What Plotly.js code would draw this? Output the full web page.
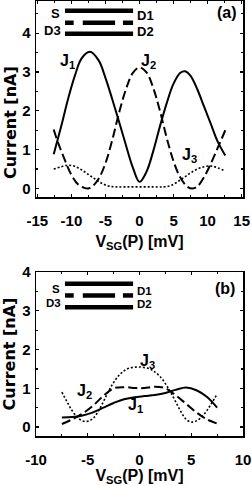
<!DOCTYPE html>
<html>
<head>
<meta charset="utf-8">
<script src="https://cdn.plot.ly/plotly-3.0.1.min.js"></script>
<style>
html,body{margin:0;padding:0;background:#fff;}
#chart{width:252px;height:486px;}
</style>
</head>
<body>
<div id="chart"></div>
<script>
// ---- Panel (a) data ----
const xA_J1 = [-12.6,-11.5,-10.5,-9.5,-8.5,-7.3,-6,-5,-4,-3,-2,-1,0,1,2,3,4,5,6,6.7,7.5,8.5,9.5,10.5,11.5,12.6];
const yA_J1 = [0.88,1.6,2.3,2.9,3.35,3.52,3.3,2.85,2.3,1.72,1.12,0.55,0.17,0.42,0.95,1.6,2.2,2.7,2.98,3.02,2.9,2.55,2.1,1.65,1.2,0.85];
const xA_J2 = [-12.6,-12,-11,-10,-9,-8,-7.6,-7,-6,-5,-4,-3,-2,-1,0,1,2,3,4,5,6,7,7.8,8.5,9.5,10.5,11.5,12.6];
const yA_J2 = [1.52,1.2,0.75,0.35,0.1,0.01,0.0,0.04,0.25,0.65,1.25,1.95,2.55,2.97,3.12,3.0,2.6,2.0,1.3,0.7,0.28,0.05,0.0,0.05,0.3,0.65,1.05,1.5];
const xA_J3 = [-12.6,-11.5,-10.5,-9.5,-8.5,-7.5,-6.5,-5.5,-4.5,-3.5,-2,0,2,3.5,4.5,5.5,6.5,7.5,8.5,9.5,10.5,11.5,12.6];
const yA_J3 = [0.5,0.56,0.6,0.57,0.48,0.36,0.24,0.13,0.06,0.04,0.04,0.04,0.04,0.04,0.07,0.16,0.28,0.4,0.5,0.56,0.58,0.53,0.45];

// ---- Panel (b) data ----
const xB_J1 = [-7.5,-6.5,-5.5,-4.5,-3.5,-2.5,-1.5,-0.5,0.5,1.5,2.5,3.5,4.5,5.5,6.5,7.5];
const yB_J1 = [0.25,0.26,0.3,0.38,0.5,0.62,0.72,0.77,0.8,0.83,0.88,0.96,1.02,0.95,0.78,0.5];
const xB_J2 = [-7.5,-6.5,-5.5,-4.5,-3.5,-2.5,-1.5,-0.5,0,0.5,1.5,2.5,3.5,4.5,5.5,6.5,7.5];
const yB_J2 = [0.08,0.2,0.35,0.55,0.8,1.0,1.03,1.01,1.0,1.01,1.04,1.0,0.82,0.6,0.38,0.2,0.09];
const xB_J3 = [-7.5,-7,-6.5,-6,-5.5,-5,-4.5,-4,-3.5,-3,-2.5,-2,-1.5,-1,0,1,1.5,2,2.5,3,3.5,4,4.5,5,5.5,6,6.5,7,7.5];
const yB_J3 = [0.9,0.65,0.42,0.25,0.16,0.15,0.22,0.4,0.65,0.92,1.15,1.33,1.45,1.52,1.55,1.5,1.42,1.3,1.12,0.9,0.65,0.4,0.2,0.13,0.16,0.26,0.42,0.63,0.85];

// ---- tick settings ----
const xTicksA = [-15,-10,-5,0,5,10,15];
const xTicksB = [-10,-5,0,5,10];
const yTicks = [0,1,2,3,4];
const seriesLabels = ['J<sub>1</sub>','J<sub>2</sub>','J<sub>3</sub>'];
const panelLabels = ['(a)','(b)'];
const xTitle = 'V<sub>SG</sub>(P) [mV]';
const yTitle = 'Current [nA]';
const contactLabels = ['S','D1','D3','D2'];

const FONT = 'Liberation Sans, Arial, sans-serif';
const YFONT = 'DejaVu Sans, sans-serif';
const solid = {color:'#000', width:2, shape:'spline', smoothing:1};
const dashed = {color:'#000', width:2, dash:'9px,4px', shape:'spline', smoothing:1};
const dotted = {color:'#000', width:1.6, dash:'2px,2px', shape:'spline', smoothing:1};

const traces = [
  {x:xA_J1, y:yA_J1, mode:'lines', line:solid, xaxis:'x', yaxis:'y'},
  {x:xA_J2, y:yA_J2, mode:'lines', line:dashed, xaxis:'x', yaxis:'y'},
  {x:xA_J3, y:yA_J3, mode:'lines', line:dotted, xaxis:'x', yaxis:'y'},
  {x:xB_J1, y:yB_J1, mode:'lines', line:solid, xaxis:'x2', yaxis:'y2'},
  {x:xB_J2, y:yB_J2, mode:'lines', line:dashed, xaxis:'x2', yaxis:'y2'},
  {x:xB_J3, y:yB_J3, mode:'lines', line:dotted, xaxis:'x2', yaxis:'y2'}
];

const tickFont = {family:FONT, size:15, color:'#000', weight:'bold'};
const titleFont = {family:FONT, size:16, color:'#000', weight:'bold'};
const yTitleFont = {family:YFONT, size:16, color:'#000', weight:'bold'};

function xAxis(range, ticks, anchor){
  return {
    range:range, tickvals:ticks, ticktext:ticks.map(String), anchor:anchor,
    ticks:'inside', ticklen:3, tickwidth:1.2, tickcolor:'#000',
    showline:true, linecolor:'#000', linewidth:1.5, mirror:'allticks',
    showgrid:false, zeroline:false, tickfont:tickFont, ticklabelstandoff:9,
    minor:{dtick:2.5, tick0:0, ticks:'inside', ticklen:2, tickcolor:'#000', showgrid:false},
    title:{text:xTitle, font:titleFont, standoff:8}
  };
}
function yAxis(range, domain, anchor, withTitle){
  const ax = {
    range:range, domain:domain, tickvals:yTicks, ticktext:yTicks.map(String), anchor:anchor,
    ticks:'inside', ticklen:3, tickwidth:1.2, tickcolor:'#000',
    showline:true, linecolor:'#000', linewidth:1.5, mirror:'allticks',
    showgrid:false, zeroline:false, tickfont:tickFont, ticklabelstandoff:1,
    minor:{dtick:0.5, tick0:0, ticks:'inside', ticklen:2, tickcolor:'#000', showgrid:false}
  };
  if (withTitle) ax.title = {text:yTitle, font:yTitleFont, standoff:4};
  return ax;
}

function contactShapes(xr, yr, ys){
  const L = {color:'#000', width:4.5};
  const mk = (x0,x1,y) => ({type:'line', xref:xr, yref:yr, x0:x0, x1:x1, y0:y, y1:y, line:L});
  return [
    mk(0.140,0.469,ys[0]),
    mk(0.140,0.182,ys[1]), mk(0.226,0.382,ys[1]), mk(0.420,0.469,ys[1]),
    mk(0.140,0.469,ys[2])
  ];
}
function contactAnns(xr, yr, ys, size){
  const f = {family:FONT, size:size, color:'#000', weight:'bold'};
  return [
    {text:contactLabels[0], x:0.125, y:ys[0], xanchor:'right'},
    {text:contactLabels[1], x:0.48, y:ys[1], xanchor:'left'},
    {text:contactLabels[2], x:0.130, y:ys[2], xanchor:'right'},
    {text:contactLabels[3], x:0.48, y:ys[3], xanchor:'left'}
  ].map(a => Object.assign(a, {xref:xr, yref:yr, yanchor:'middle', showarrow:false, font:f}));
}

const annFont = {family:FONT, size:16, color:'#000', weight:'bold'};
const ann = (t,x,y,xr,yr) => ({text:t, x:x, y:y, xref:xr, yref:yr, showarrow:false, font:annFont, xanchor:'center', yanchor:'middle'});

const layout = {
  width:252, height:486,
  margin:{l:36, r:9, t:1, b:50},
  paper_bgcolor:'#fff', plot_bgcolor:'#fff',
  showlegend:false,
  xaxis: xAxis([-15.2,15.2], xTicksA, 'y'),
  yaxis: yAxis([-0.22,4.83], [0.5494,1], 'x', false),
  xaxis2: xAxis([-10,10], xTicksB, 'y2'),
  yaxis2: yAxis([-0.23,4.0], [0,0.377], 'x2', true),
  shapes: [].concat(
    contactShapes('x domain','y domain',[0.95,0.889,0.833]),
    contactShapes('x2 domain','y2 domain',[0.928,0.857,0.785])
  ),
  annotations: [].concat(
    contactAnns('x domain','y domain',[0.935,0.925,0.85,0.845], 13),
    contactAnns('x2 domain','y2 domain',[0.895,0.885,0.810,0.805], 11.5),
    [
      {text:yTitle, xref:'paper', yref:'paper', x:-0.1256, y:0.7195, textangle:-90,
       xanchor:'center', yanchor:'middle', showarrow:false, font:yTitleFont},
      ann(seriesLabels[0], -10.6, 3.27, 'x','y'),
      ann(seriesLabels[1], 1.25, 3.27, 'x','y'),
      ann(seriesLabels[2], 7.4, 0.84, 'x','y'),
      ann(seriesLabels[1], -5.3, 0.91, 'x2','y2'),
      ann(seriesLabels[2], 0.8, 1.68, 'x2','y2'),
      ann(seriesLabels[0], -0.4, 0.56, 'x2','y2'),
      ann(panelLabels[0], 0.925, 0.94, 'x domain','y domain'),
      ann(panelLabels[1], 0.915, 0.9, 'x2 domain','y2 domain')
    ]
  )
};

Plotly.newPlot('chart', traces, layout, {staticPlot:true, displayModeBar:false});
</script>
</body>
</html>
